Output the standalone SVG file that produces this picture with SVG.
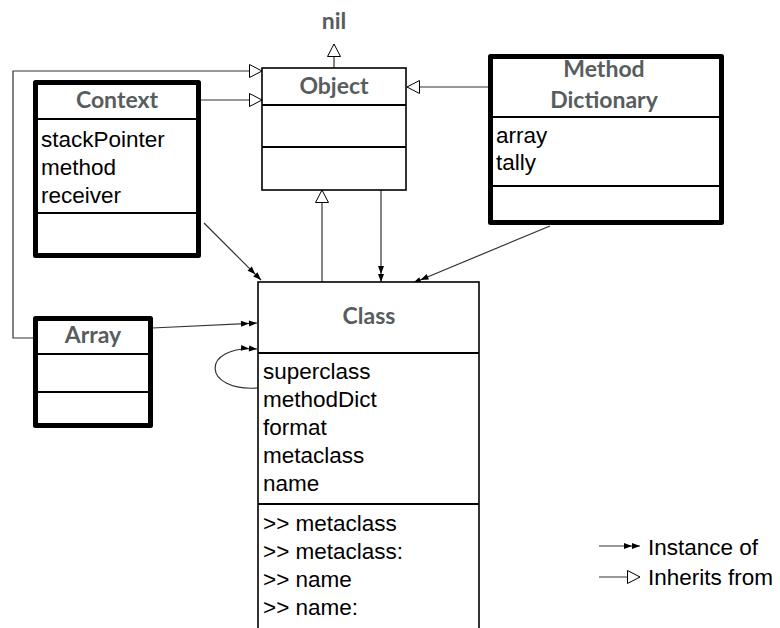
<svg xmlns="http://www.w3.org/2000/svg" width="780" height="628" viewBox="0 0 780 628">
  <style>
    .title { font-family: Lato, "Open Sans", sans-serif; font-weight: bold; font-size: 23px; fill: #575d5d; text-anchor: middle; }
    .attr { font-family: "Liberation Sans", Arial, sans-serif; font-size: 22.5px; fill: #000; }
    .thin { fill: #fff; stroke: #000; stroke-width: 1.6; }
    .thick { fill: #fff; stroke: #000; stroke-width: 5; stroke-linejoin: round; }
    .div { stroke: #000; stroke-width: 1.8; }
    .edge { fill: none; stroke: #333; stroke-width: 1.2; }
  </style>
  <defs>
    <marker id="inherit" markerUnits="userSpaceOnUse" markerWidth="16" markerHeight="16" refX="13" refY="7" orient="auto">
      <path d="M0.5,0.5 L13,7 L0.5,13.5 z" fill="#fff" stroke="#000" stroke-width="1"/>
    </marker>
    <marker id="instance" markerUnits="userSpaceOnUse" markerWidth="18" markerHeight="10" refX="17" refY="5" orient="auto">
      <path d="M1,2 L9,5 L1,8 z M9,2 L17,5 L9,8 z" fill="#000"/>
    </marker>
  </defs>

  <!-- connectors -->
  <g id="connectors">
    <polyline class="edge" points="35,338 13,338 13,71 262,71" marker-end="url(#inherit)"/>
    <line class="edge" x1="200" y1="100" x2="262" y2="100" marker-end="url(#inherit)"/>
    <line class="edge" x1="490" y1="87" x2="407" y2="87" marker-end="url(#inherit)"/>
    <line class="edge" x1="334" y1="68" x2="334" y2="44" marker-end="url(#inherit)"/>
    <line class="edge" x1="322" y1="282" x2="322" y2="190" marker-end="url(#inherit)"/>
    <line class="edge" x1="381" y1="190" x2="381" y2="282" marker-end="url(#instance)"/>
    <line class="edge" x1="204" y1="223" x2="261" y2="280" marker-end="url(#instance)"/>
    <line class="edge" x1="550" y1="226" x2="413" y2="283" marker-end="url(#instance)"/>
    <line class="edge" x1="152" y1="328" x2="257" y2="323" marker-end="url(#instance)"/>
    <path class="edge" d="M258,388 C202,392 200,345 257,349" marker-end="url(#instance)"/>
  </g>

  <text class="title" x="334" y="29" font-size="20">nil</text>

  <g id="object">
    <rect class="thin" x="262" y="68" width="144" height="122"/>
    <line class="div" x1="262" y1="105" x2="406" y2="105"/>
    <line class="div" x1="262" y1="147" x2="406" y2="147"/>
    <text class="title" x="334" y="94">Object</text>
  </g>

  <g id="context">
    <rect class="thick" x="35.5" y="82.5" width="163" height="173"/>
    <line class="div" x1="35" y1="119" x2="199" y2="119"/>
    <line class="div" x1="35" y1="213" x2="199" y2="213"/>
    <text class="title" x="117" y="108">Context</text>
    <text class="attr" x="41" y="147">stackPointer</text>
    <text class="attr" x="41" y="175">method</text>
    <text class="attr" x="41" y="203">receiver</text>
  </g>

  <g id="method-dictionary">
    <rect class="thick" x="490.5" y="56.5" width="231" height="166"/>
    <line class="div" x1="490" y1="117" x2="722" y2="117"/>
    <line class="div" x1="490" y1="186" x2="722" y2="186"/>
    <text class="title" x="604" y="77">Method</text>
    <text class="title" x="604" y="108">Dictionary</text>
    <text class="attr" x="496" y="143">array</text>
    <text class="attr" x="496" y="170">tally</text>
  </g>

  <g id="array">
    <rect class="thick" x="35.5" y="318.5" width="115" height="107"/>
    <line class="div" x1="35" y1="354" x2="151" y2="354"/>
    <line class="div" x1="35" y1="392" x2="151" y2="392"/>
    <text class="title" x="93" y="343">Array</text>
  </g>

  <g id="class">
    <rect class="thin" x="258" y="282" width="221" height="380"/>
    <line class="div" x1="258" y1="353" x2="479" y2="353"/>
    <line class="div" x1="258" y1="504" x2="479" y2="504"/>
    <text class="title" x="369" y="324">Class</text>
    <text class="attr" x="263" y="379">superclass</text>
    <text class="attr" x="263" y="407">methodDict</text>
    <text class="attr" x="263" y="435">format</text>
    <text class="attr" x="263" y="463">metaclass</text>
    <text class="attr" x="263" y="491">name</text>
    <text class="attr" x="263" y="531">&gt;&gt; metaclass</text>
    <text class="attr" x="263" y="559">&gt;&gt; metaclass:</text>
    <text class="attr" x="263" y="587">&gt;&gt; name</text>
    <text class="attr" x="263" y="615">&gt;&gt; name:</text>
  </g>

  <g id="legend">
    <line class="edge" x1="599" y1="546" x2="640" y2="546" marker-end="url(#instance)"/>
    <text class="attr" x="648" y="555">Instance of</text>
    <line class="edge" x1="599" y1="577" x2="640" y2="577" marker-end="url(#inherit)"/>
    <text class="attr" x="648" y="585">Inherits from</text>
  </g>
</svg>
